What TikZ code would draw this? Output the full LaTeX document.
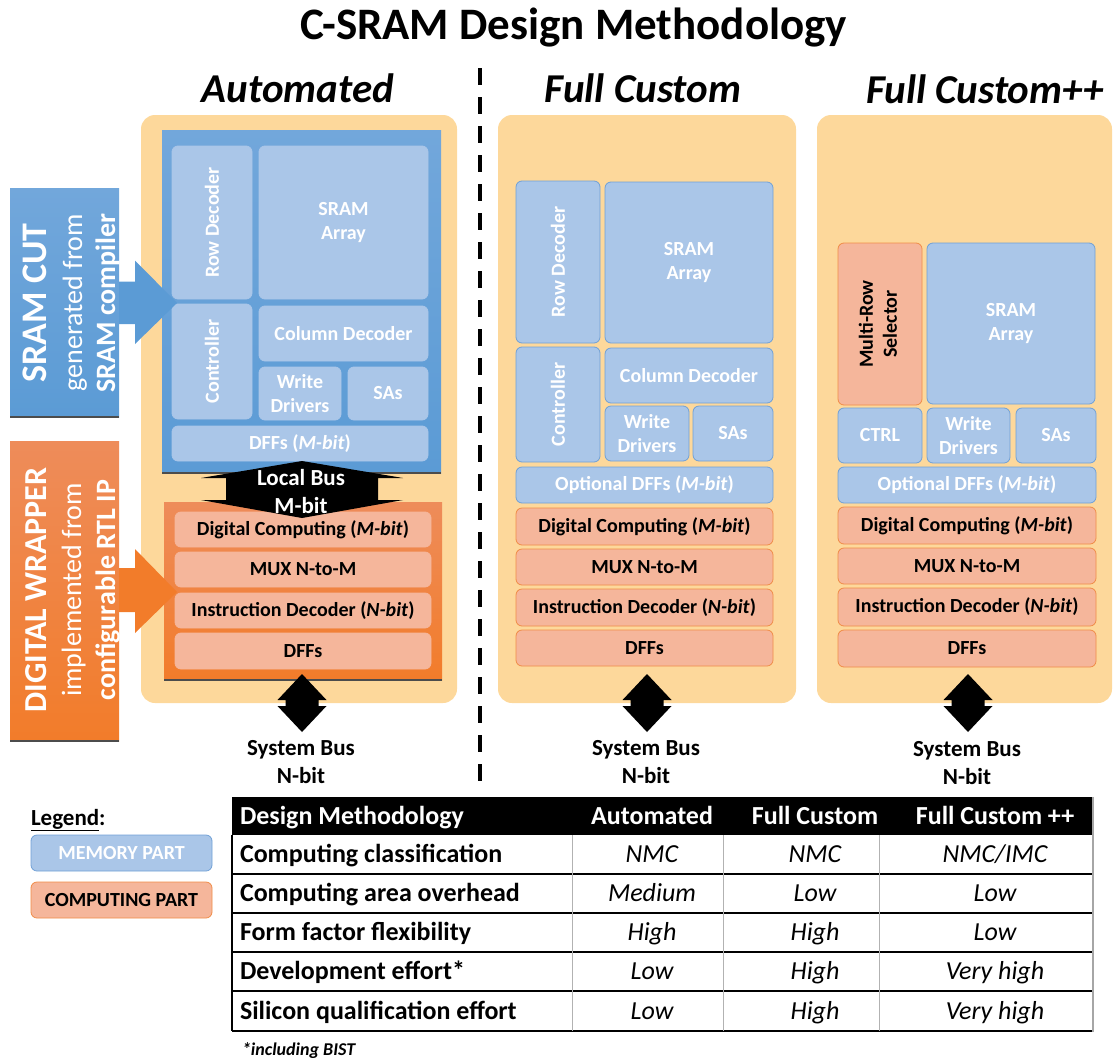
\documentclass[tikz,border=0pt]{standalone}
\usepackage{fontspec}
\usepackage{graphicx}
\setmainfont{Carlito}
\usetikzlibrary{calc}
\definecolor{panel}{RGB}{253,216,155}
\definecolor{blk}{RGB}{91,155,213}
\definecolor{blktop}{RGB}{114,167,219}
\definecolor{lb}{RGB}{170,198,232}
\definecolor{lbd}{RGB}{112,160,214}
\definecolor{orb}{RGB}{242,124,42}
\definecolor{orbtop}{RGB}{238,140,90}
\definecolor{sal}{RGB}{245,182,155}
\definecolor{sald}{RGB}{240,140,72}
\newcommand\fsz[2]{\fontsize{#1}{#2}\selectfont}
\newcommand\R[7]{\node[#2,minimum width={#5-#3},minimum height={#6-#4}] (#1) at ({(#3+#5)/2},{(#4+#6)/2}) {#7};}
\newcommand\rot[1]{\rotatebox{90}{#1}}
\newcommand\sysbus[2]{\coordinate (#1) at (#2,674);
 \fill[black] (#1) -- ++(24.5,26) -- ++(-8,0) -- ++(0,6) -- ++(8,0) -- ++(-24.5,26) -- ++(-24.5,-26) -- ++(8,0) -- ++(0,-6) -- ++(-8,0) -- cycle;}
\tikzset{
 panelbg/.style={fill=panel, rounded corners=14pt},
 mem/.style={rounded corners=6pt, fill=lb, draw=lbd, line width=0.8pt, text=white, font=\bfseries\fsz{20}{24}, align=center},
 memA/.style={mem, draw=lb},
 comp/.style={rounded corners=6pt, fill=sal, draw=sald, line width=0.8pt, text=black, font=\bfseries\fsz{20}{24}, align=center},
 compA/.style={comp, draw=sal},
 shadowline/.style={draw=black!70, line width=2pt},
 bustext/.style={font=\bfseries\fsz{23}{28}, align=center},
 hdr/.style={font=\bfseries\itshape\fsz{41}{45}, anchor=base},
 tabl/.style={font=\bfseries\fsz{26}{30}, anchor=base west},
 tabh/.style={font=\bfseries\fsz{26}{30}, anchor=base, text=white},
 tabv/.style={font=\itshape\fsz{26}{30}, anchor=base},
 tabline/.style={draw=black, line width=1.4pt},
 sidebig/.style={rotate=90, anchor=base, text=white},
}
\begin{document}
\begin{tikzpicture}[x=1pt,y=-1pt,every node/.style={inner sep=0pt,outer sep=0pt}]
\useasboundingbox (0,0) rectangle (1113,1060);

% title and headers
\node[font=\bfseries\fsz{45}{50}, anchor=base] (title) at (574,39) {C-SRAM Design Methodology};
\node[hdr] (hA) at (298,102) {Automated};
\node[hdr] (hB) at (643,102) {Full Custom};
\node[hdr] (hC) at (985,103) {Full Custom++};

% separator
\coordinate (dtop) at (480,68);
\coordinate (dbot) at (480,782);
\draw[line width=3.5pt, dash pattern=on 17pt off 12pt] (dtop) -- (dbot);

% panels
\R{pA}{panelbg}{141}{115}{457}{703}{}
\R{pB}{panelbg}{498}{115}{796}{703}{}
\R{pC}{panelbg}{817}{115}{1112}{703}{}

% ---- Automated panel
\R{sramA}{top color=blktop,bottom color=blk}{162}{130}{441}{473}{}
\draw[shadowline] (sramA.south west) -- (sramA.south east);
\R{rdA}{memA}{172}{146}{252}{299}{\rot{Row Decoder}}
\R{arA}{memA}{259}{146}{428}{299}{SRAM\\Array}
\R{ctA}{memA}{172}{304}{252}{419}{\rot{Controller}}
\R{cdA}{memA}{259}{306}{428}{361}{Column Decoder}
\R{wdA}{memA}{259}{367}{341}{420}{Write\\Drivers}
\R{saA}{memA}{348}{367}{428}{420}{SAs}
\R{dfA}{memA}{172}{426}{428}{461}{DFFs (\textit{M-bit})}

\R{dwA}{top color=orbtop,bottom color=orb}{164}{502}{442}{680}{}
\draw[shadowline] (dwA.south west) -- (dwA.south east);
\R{dcA}{compA}{175}{512}{431}{547}{Digital Computing (\textit{M-bit})}
\R{muA}{compA}{175}{552}{431}{587}{MUX N-to-M}
\R{idA}{compA}{175}{593}{431}{628}{Instruction Decoder (\textit{N-bit})}
\R{ffA}{compA}{175}{633}{431}{669}{DFFs}

% local bus arrow
\coordinate (lbT) at (302,461);
\coordinate (lbB) at (302,518);
\fill[black] (lbT) -- ++(101,17) -- ++(-25,0) -- ++(0,22) -- ++(25,0) -- (lbB) -- ++(-101,-18) -- ++(25,0) -- ++(0,-22) -- ++(-25,0) -- cycle;
\node[bustext, text=white] (lbtext) at (301,492) {Local Bus\\M-bit};

% ---- Full Custom panel
\R{rdB}{mem}{516}{181}{600}{343}{\rot{Row Decoder}}
\R{arB}{mem}{605}{182}{773}{343}{SRAM\\Array}
\R{ctB}{mem}{516}{347}{600}{462}{\rot{Controller}}
\R{cdB}{mem}{605}{348}{773}{403}{Column Decoder}
\R{wdB}{mem}{605}{406}{689}{461}{Write\\Drivers}
\R{saB}{mem}{693}{406}{773}{461}{SAs}
\R{dfB}{mem}{516}{467}{773}{503}{Optional DFFs (\textit{M-bit})}
\R{dcB}{comp}{516}{508}{773}{545}{Digital Computing (\textit{M-bit})}
\R{muB}{comp}{516}{549}{773}{585}{MUX N-to-M}
\R{idB}{comp}{516}{589}{773}{626}{Instruction Decoder (\textit{N-bit})}
\R{ffB}{comp}{516}{630}{773}{666}{DFFs}

% ---- Full Custom++ panel
\R{msC}{comp}{838}{243}{922}{405}{\rot{\begin{tabular}{@{}c@{}}Multi-Row\\Selector\end{tabular}}}
\R{arC}{mem}{927}{243}{1095}{404}{SRAM\\Array}
\R{ctC}{mem}{838}{408}{922}{463}{CTRL}
\R{wdC}{mem}{927}{408}{1010}{463}{Write\\Drivers}
\R{saC}{mem}{1016}{408}{1096}{463}{SAs}
\R{dfC}{mem}{838}{467}{1096}{503}{Optional DFFs (\textit{M-bit})}
\R{dcC}{comp}{838}{507}{1096}{544}{Digital Computing (\textit{M-bit})}
\R{muC}{comp}{838}{548}{1096}{584}{MUX N-to-M}
\R{idC}{comp}{838}{588}{1096}{626}{Instruction Decoder (\textit{N-bit})}
\R{ffC}{comp}{838}{630}{1096}{667}{DFFs}

% system buses
\sysbus{sbA}{302}
\sysbus{sbB}{647}
\sysbus{sbC}{968}
\node[bustext] (sbtA) at (301,762) {System Bus\\N-bit};
\node[bustext] (sbtB) at (646,762) {System Bus\\N-bit};
\node[bustext] (sbtC) at (967,763) {System Bus\\N-bit};

% ---- side labels
\R{sramcut}{top color=blktop,bottom color=blk}{10}{188}{119}{417}{}
\draw[shadowline] (sramcut.south west) -- (sramcut.south east);
\coordinate (saT) at (177,303);
\fill[blk] (sramcut.east) ++(0,-21) -- ++(16,0) -- ++(0,-21) -- (saT) -- ++(-42,41) -- ++(0,-20) -- ++(-16,0) -- cycle;
\node[sidebig, font=\bfseries\fsz{36}{40}] (sc1) at (46,303) {SRAM CUT};
\node[sidebig, font=\fsz{28}{30}] (sc2) at (82,303) {generated from};
\node[sidebig, font=\bfseries\fsz{28}{30}] (sc3) at (115,303) {SRAM compiler};

\R{dwrap}{top color=orbtop,bottom color=orb}{10}{441}{119}{741}{}
\draw[shadowline] (dwrap.south west) -- (dwrap.south east);
\coordinate (daT) at (177,592);
\fill[orb] (dwrap.east) ++(0,-23) -- ++(16,0) -- ++(0,-19) -- (daT) -- ++(-42,41) -- ++(0,-21) -- ++(-16,0) -- cycle;
\node[sidebig, font=\bfseries\fsz{32}{36}] (dw1) at (46,590) {DIGITAL WRAPPER};
\node[sidebig, font=\fsz{28}{30}] (dw2) at (81,590) {implemented from};
\node[sidebig, font=\bfseries\fsz{28}{30}] (dw3) at (115,590) {configurable RTL IP};

% ---- legend
\node[font=\bfseries\fsz{23}{26}, anchor=base west] (leg) at (31,825) {\underline{Legend}:};
\R{lgM}{mem, font=\bfseries\fsz{20}{22}}{31}{835}{212}{871}{MEMORY PART}
\R{lgC}{comp, font=\bfseries\fsz{20}{22}}{31}{882}{212}{918}{COMPUTING PART}

% ---- table
\R{thead}{fill=black}{232}{797}{1093}{835}{}
\foreach \y in {874,913,952,991,1031} \draw[tabline] (232,\y) -- (1093,\y);
\draw[black, line width=1.2pt] (232,835) -- (232,1031);
\foreach \x in {572,723,879} \draw[gray!60, line width=0.7pt] (\x,835) -- (\x,1031);
\draw[gray!70, line width=2pt] (1093,797) -- (1093,1032);

\node[tabh, anchor=base west] (t0a) at (240,824) {Design Methodology};
\node[tabh] (t0b) at (652,824) {Automated};
\node[tabh] (t0c) at (815,824) {Full Custom};
\node[tabh] (t0d) at (995,824) {Full Custom ++};

\node[tabl] (t1a) at (240,862) {Computing classification};
\node[tabv] (t1b) at (652,862) {NMC};
\node[tabv] (t1c) at (815,862) {NMC};
\node[tabv] (t1d) at (995,862) {NMC/IMC};

\node[tabl] (t2a) at (240,901) {Computing area overhead};
\node[tabv] (t2b) at (652,901) {Medium};
\node[tabv] (t2c) at (815,901) {Low};
\node[tabv] (t2d) at (995,901) {Low};

\node[tabl] (t3a) at (240,940) {Form factor flexibility};
\node[tabv] (t3b) at (652,940) {High};
\node[tabv] (t3c) at (815,940) {High};
\node[tabv] (t3d) at (995,940) {Low};

\node[tabl] (t4a) at (240,979) {Development effort*};
\node[tabv] (t4b) at (652,979) {Low};
\node[tabv] (t4c) at (815,979) {High};
\node[tabv] (t4d) at (995,979) {Very high};

\node[tabl] (t5a) at (240,1019) {Silicon qualification effort};
\node[tabv] (t5b) at (652,1019) {Low};
\node[tabv] (t5c) at (815,1019) {High};
\node[tabv] (t5d) at (995,1019) {Very high};

\node[font=\bfseries\itshape\fsz{18}{20}, anchor=base west] (foot) at (242,1055) {*including BIST};
\end{tikzpicture}
\end{document}
